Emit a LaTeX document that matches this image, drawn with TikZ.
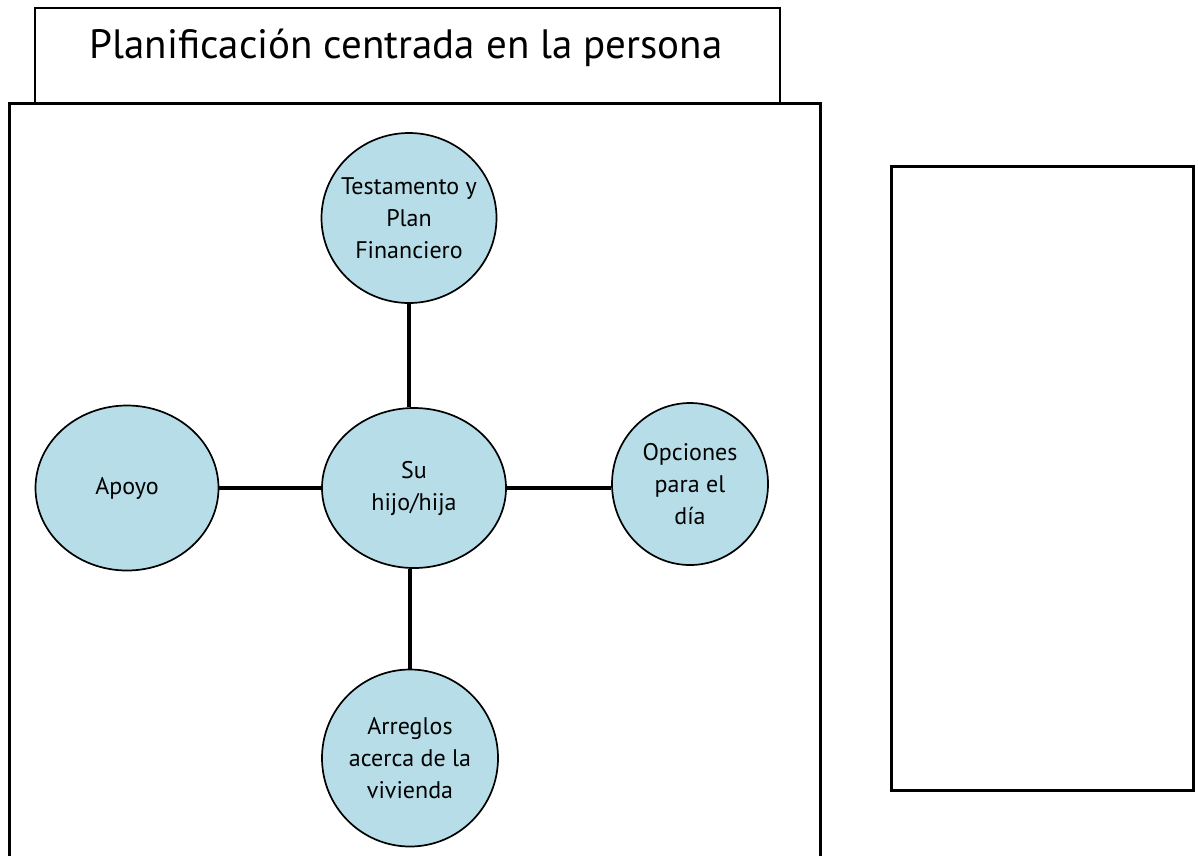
\documentclass[tikz,border=0pt]{standalone}
\usepackage{fontspec}
\setmainfont{PT Sans}
\usetikzlibrary{shapes.geometric}
\definecolor{bubblefill}{RGB}{183,222,232}

\begin{document}
\begin{tikzpicture}[x=1pt,y=-1pt,
  bubble/.style={ellipse,draw,line width=1.7pt,fill=bubblefill,inner sep=-30pt,
    align=center,font=\fontsize{24}{32}\selectfont},
  link/.style={line width=3.4pt}]
\useasboundingbox (0,0) rectangle (1198,855);
\clip (0,0) rectangle (1198,855);
% frames
\draw[line width=1.8pt] (35,8) rectangle (780,103);
\node (title) at (406,48) {\fontsize{41}{48}\selectfont Planificación centrada en la persona};
\draw[line width=3pt] (9,870) -- (9,103) -- (820,103) -- (820,870);
\draw[line width=3pt] (891,166) rectangle (1193,790);
% bubbles
\node[bubble,minimum width=184pt,minimum height=160pt] (child) at (414,488) {Su\\hijo/hija};
\node[bubble,minimum width=175pt,minimum height=170pt] (will) at (409,218) {Testamento y\\Plan\\Financiero};
\node[bubble,minimum width=183pt,minimum height=165pt] (support) at (127,488) {Apoyo};
\node[bubble,minimum width=156pt,minimum height=162pt] (day) at (690,484) {Opciones\\para el\\día};
\node[bubble,minimum width=176pt,minimum height=177pt] (home) at (410,758) {Arreglos\\acerca de la\\vivienda};
% links
\draw[link] (will.south) -- (will.south |- child.north);
\draw[link] (child.south -| home.north) -- (home.north);
\draw[link] (support.east) -- (child.west);
\draw[link] (child.east) -- (child.east -| day.west);
\end{tikzpicture}
\end{document}
